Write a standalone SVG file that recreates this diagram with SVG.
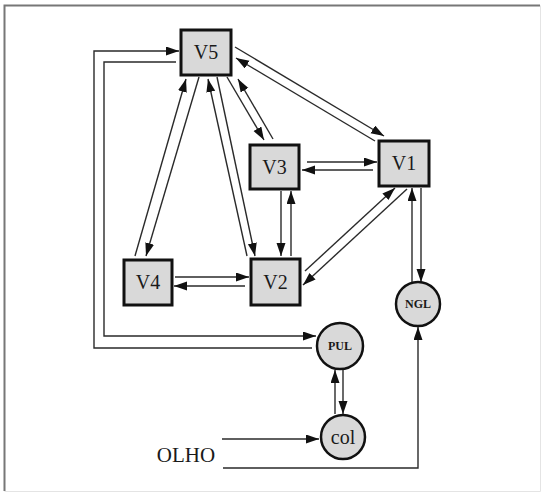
<svg xmlns="http://www.w3.org/2000/svg" width="542" height="493" viewBox="0 0 542 493">
<defs>
<marker id="ah" markerUnits="userSpaceOnUse" markerWidth="14" markerHeight="10" refX="13" refY="4.5" orient="auto">
<path d="M0,0 L13,4.5 L0,9 z" fill="#111"/>
</marker>
<style>
.box{fill:#d9d9d9;stroke:#111;stroke-width:3}
.circ{fill:#d9d9d9;stroke:#111;stroke-width:2.5}
.lbl{font-family:"Liberation Serif","Times New Roman",serif;fill:#1a1a1a;text-anchor:middle}
.big{font-size:20px}
.small{font-size:12px;font-weight:bold}
.c{fill:none;stroke:#2a2a2a;stroke-width:1.4}
.a{marker-end:url(#ah)}
</style>
</defs>
<rect x="0" y="0" width="542" height="493" fill="#fff"/>
<path d="M540.5,5.5 V491.5 H4.5" fill="none" stroke="#e4e4e4" stroke-width="1"/>
<path d="M4.5,491 V5.5 H540" fill="none" stroke="#777" stroke-width="2"/>

<g id="connectors">
<line class="c a" x1="235" y1="47" x2="384" y2="136"/>
<line class="c a" x1="375" y1="141" x2="236" y2="58"/>
<line class="c a" x1="227" y1="77" x2="264" y2="140"/>
<line class="c a" x1="273" y1="139" x2="238" y2="79"/>
<line class="c a" x1="217" y1="77" x2="255" y2="256"/>
<line class="c a" x1="247" y1="256" x2="208" y2="79"/>
<line class="c a" x1="199" y1="77" x2="146" y2="256"/>
<line class="c a" x1="135" y1="256" x2="186" y2="79"/>
<line class="c a" x1="307" y1="162" x2="377" y2="162"/>
<line class="c a" x1="373" y1="170" x2="302" y2="170"/>
<line class="c a" x1="281" y1="191" x2="281" y2="256"/>
<line class="c a" x1="291" y1="256" x2="291" y2="191"/>
<line class="c a" x1="175" y1="277" x2="249" y2="277"/>
<line class="c a" x1="245" y1="286" x2="174" y2="286"/>
<line class="c a" x1="305" y1="271" x2="395" y2="188"/>
<line class="c a" x1="407" y1="189" x2="303" y2="285"/>
<line class="c a" x1="421" y1="188" x2="421" y2="282"/>
<line class="c a" x1="412" y1="282" x2="412" y2="188"/>
<polyline class="c a" points="176,62 104,62 104,336 316,336"/>
<polyline class="c a" points="312,348 94,348 94,51 179,51"/>
<line class="c a" x1="343" y1="370" x2="343" y2="414"/>
<line class="c a" x1="335" y1="414" x2="335" y2="370"/>
<line class="c a" x1="222" y1="439" x2="319" y2="439"/>
<polyline class="c a" points="223,468 418,468 418,327"/>
</g>

<g id="V5"><rect class="box" x="181" y="30" width="50" height="45"/><text class="lbl big" x="206" y="59">V5</text></g>
<g id="V3"><rect class="box" x="250" y="145" width="49" height="44"/><text class="lbl big" x="274.5" y="174">V3</text></g>
<g id="V1"><rect class="box" x="379" y="141" width="50" height="45"/><text class="lbl big" x="404" y="170">V1</text></g>
<g id="V4"><rect class="box" x="124" y="260" width="48" height="45"/><text class="lbl big" x="148" y="289">V4</text></g>
<g id="V2"><rect class="box" x="251" y="259" width="49" height="46"/><text class="lbl big" x="275.5" y="289">V2</text></g>
<g id="NGL"><circle class="circ" cx="418" cy="304" r="22"/><text class="lbl small" x="418" y="308">NGL</text></g>
<g id="PUL"><circle class="circ" cx="340" cy="346" r="23"/><text class="lbl small" x="340" y="350">PUL</text></g>
<g id="col"><circle class="circ" cx="343" cy="437" r="22"/><text class="lbl big" x="343" y="444">col</text></g>
<g id="OLHO"><text class="lbl" style="font-size:21px" x="186" y="462">OLHO</text></g>
</svg>
